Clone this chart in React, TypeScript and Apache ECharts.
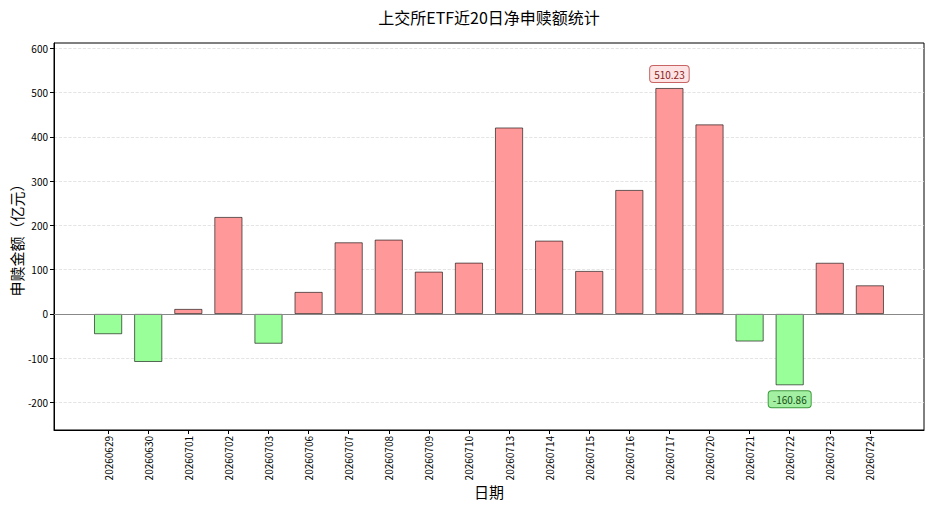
import React, { useEffect, useRef } from "react";
import * as echarts from "echarts";

const dates = [
  "20260629", "20260630", "20260701", "20260702", "20260703",
  "20260706", "20260707", "20260708", "20260709", "20260710",
  "20260713", "20260714", "20260715", "20260716", "20260717",
  "20260720", "20260721", "20260722", "20260723", "20260724",
];
const netValues = [
  -45.5, -108.2, 11.3, 219.0, -67.0,
  49.7, 161.7, 167.8, 95.5, 115.8,
  421.0, 165.5, 97.1, 280.0, 510.23,
  428.0, -62.0, -160.86, 115.5, 64.6,
];
const yTickValues = [-200, -100, 0, 100, 200, 300, 400, 500, 600];

const FONT = "'Noto Sans CJK SC', 'Noto Sans', sans-serif";

export default function App() {
  const ref = useRef<HTMLDivElement>(null);
  useEffect(() => {
    if (!ref.current) return;
    const chart = echarts.init(ref.current, null, { renderer: "svg" });
    const maxV = Math.max(...netValues);
    const minV = Math.min(...netValues);
    const data = netValues.map((v, i) => {
      const pos = v >= 0;
      const item: any = {
        value: [i, v],
        itemStyle: {
          color: pos ? "#ff9999" : "#99ff99",
          borderColor: "rgba(0,0,0,0.75)",
          borderWidth: 0.8,
        },
      };
      if (v === maxV || v === minV) {
        item.label = {
          show: true,
          position: v === maxV ? "top" : "bottom",
          distance: 6,
          formatter: () => v.toFixed(2),
          fontFamily: FONT,
          fontSize: 10,
          lineHeight: 12,
          color: v === maxV ? "#8b1a1a" : "#145214",
          backgroundColor: v === maxV ? "#fde3e3" : "#a3f0a3",
          borderColor: v === maxV ? "#c86464" : "#3c9a3c",
          borderWidth: 1,
          borderRadius: 3,
          padding: [2, 4, 2, 4],
        };
      }
      return item;
    });

    chart.setOption({
      animation: false,
      backgroundColor: "#ffffff",
      textStyle: { fontFamily: FONT },
      graphic: [
        {
          type: "text",
          x: 489,
          y: 17,
          style: {
            text: "上交所ETF近20日净申赎额统计",
            fontFamily: FONT,
            fontSize: 16,
            fill: "#000",
            textAlign: "center",
            textVerticalAlign: "middle",
          },
        },
      ],
      grid: {
        left: 54,
        right: 4,
        top: 43,
        bottom: 75,
        show: true,
        borderColor: "#000",
        borderWidth: 1,
        backgroundColor: "transparent",
        containLabel: false,
        outerBoundsMode: "none",
      },
      xAxis: {
        type: "value",
        min: -1.35,
        max: 20.35,
        name: "日期",
        nameLocation: "middle",
        nameGap: 54,
        nameMoveOverlap: false,
        nameTextStyle: { fontFamily: FONT, fontSize: 15, color: "#000" },
        axisLine: { show: true, onZero: false, lineStyle: { color: "#000", width: 1 } },
        axisTick: {
          show: true,
          length: 4,
          customValues: dates.map((_, i) => i),
          lineStyle: { color: "#000" },
        },
        axisLabel: {
          show: true,
          customValues: dates.map((_, i) => i),
          rotate: 90,
          margin: 6,
          fontFamily: FONT,
          fontSize: 10,
          color: "#000",
          formatter: (v: number) => dates[Math.round(v)] ?? "",
        },
        splitLine: { show: false },
      },
      yAxis: {
        type: "value",
        min: -262,
        max: 612,
        name: "申赎金额（亿元）",
        nameLocation: "middle",
        nameGap: 30,
        nameMoveOverlap: false,
        nameTextStyle: { fontFamily: FONT, fontSize: 15, color: "#000" },
        axisLine: { show: true, onZero: false, lineStyle: { color: "#000", width: 1 } },
        axisTick: {
          show: true,
          length: 4,
          customValues: yTickValues,
          lineStyle: { color: "#000" },
        },
        axisLabel: {
          show: true,
          customValues: yTickValues,
          margin: 6,
          fontFamily: FONT,
          fontSize: 10,
          color: "#000",
        },
        minInterval: 100,
        maxInterval: 100,
        splitLine: {
          show: true,
          lineStyle: { color: "#dddddd", type: "dashed", width: 0.8 },
        },
      },
      series: [
        {
          type: "bar",
          barWidth: 28,
          data,
          markLine: {
            silent: true,
            symbol: "none",
            label: { show: false },
            lineStyle: { color: "#888888", type: "solid", width: 1 },
            data: [{ yAxis: 0 }],
          },
        },
      ],
    });
    return () => chart.dispose();
  }, []);
  return (
    <div
      ref={ref}
      style={{ position: "fixed", left: 0, top: 0, width: 928, height: 505 }}
    />
  );
}
